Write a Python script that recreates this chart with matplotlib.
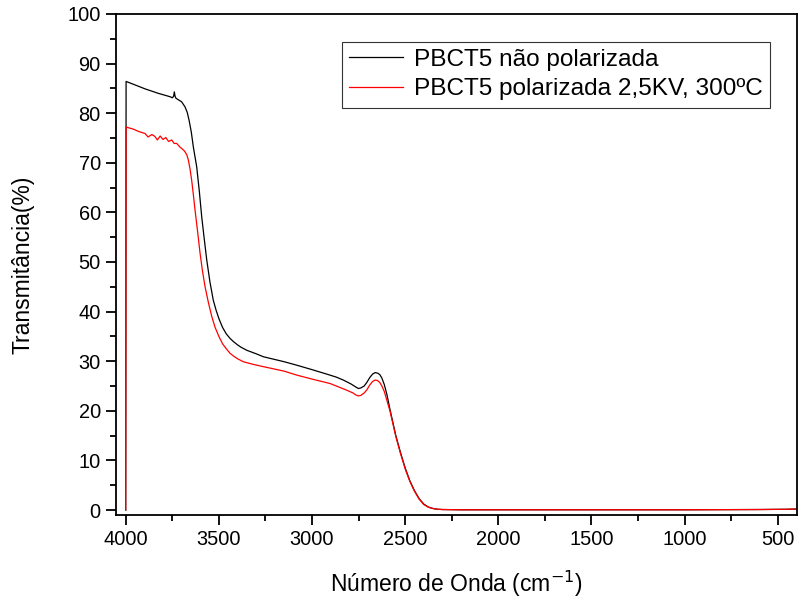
"""FTIR transmittance of PBCT5, unpoled vs poled."""

import matplotlib

matplotlib.use("Agg")
import matplotlib.pyplot as plt
from matplotlib.ticker import MultipleLocator

plt.rcParams["font.family"] = ["Liberation Sans", "DejaVu Sans"]

# Wavenumber (cm^-1) and transmittance (%).
black_wn = [4000, 3998, 3950, 3896, 3825, 3760, 3750, 3743, 3739, 3735, 3730,
            3700, 3682, 3670, 3660, 3648, 3637, 3619, 3605, 3592, 3578, 3565,
            3548, 3530, 3515, 3500, 3480, 3460, 3440, 3420, 3400, 3380, 3350,
            3300, 3261, 3150, 3082, 3000, 2921, 2870, 2832, 2790, 2765, 2751,
            2738, 2720, 2706, 2690, 2675, 2661, 2648, 2636, 2625, 2612, 2598,
            2581, 2550, 2525, 2500, 2475, 2450, 2425, 2400, 2375, 2350, 2325,
            2300, 2200, 2000, 1500, 1000, 600, 450, 400]
black_t = [0.0, 86.4, 85.7, 84.9, 84.0, 83.3, 83.1, 83.4, 84.3, 83.4, 83.0,
           82.3, 81.3, 80.2, 78.6, 76.2, 73.2, 69.2, 64.3, 59.1, 54.5, 50.4,
           46.0, 42.3, 40.3, 38.6, 36.8, 35.5, 34.6, 33.9, 33.3, 32.8, 32.2,
           31.5, 30.9, 29.9, 29.2, 28.3, 27.4, 26.8, 26.2, 25.4, 24.8, 24.5,
           24.6, 25.0, 25.7, 26.7, 27.4, 27.7, 27.6, 27.3, 26.6, 25.3, 23.3,
           20.2, 15.0, 11.6, 8.5, 5.9, 3.9, 2.3, 1.2, 0.6, 0.3, 0.15,
           0.1, 0.05, 0.05, 0.05, 0.05, 0.1, 0.15, 0.2]

red_wn = [4000, 3998, 3960, 3930, 3896, 3880, 3860, 3843, 3830, 3815, 3800,
          3785, 3770, 3753, 3740, 3726, 3710, 3700, 3685, 3672, 3664, 3655,
          3646, 3637, 3628, 3614, 3601, 3588, 3574, 3556, 3538, 3520, 3500,
          3480, 3460, 3440, 3420, 3400, 3369, 3320, 3261, 3150, 3082, 3000,
          2903, 2823, 2780, 2765, 2751, 2738, 2720, 2706, 2690, 2675, 2661,
          2648, 2636, 2625, 2612, 2598, 2581, 2550, 2525, 2500, 2475, 2450,
          2425, 2400, 2375, 2350, 2325, 2300, 2200, 2000, 1500, 1000, 600,
          450, 400]
red_t = [0.0, 77.2, 76.8, 76.3, 75.9, 75.2, 75.7, 75.3, 74.6, 75.4, 74.7,
         75.1, 74.3, 74.6, 73.9, 73.9, 73.2, 72.9, 72.4, 71.6, 70.6, 68.8,
         66.5, 63.6, 60.5, 56.1, 51.8, 48.2, 45.0, 41.8, 39.0, 36.8, 35.0,
         33.5, 32.5, 31.6, 31.0, 30.5, 29.9, 29.4, 28.9, 28.0, 27.2, 26.4,
         25.5, 24.3, 23.6, 23.2, 23.0, 23.1, 23.6, 24.2, 25.2, 25.9, 26.2,
         26.1, 25.7, 25.0, 23.9, 22.1, 19.9, 14.8, 11.4, 8.3, 5.8, 3.8,
         2.2, 1.1, 0.55, 0.3, 0.15, 0.1, 0.05, 0.05, 0.05, 0.05, 0.1,
         0.15, 0.2]

labels = ["PBCT5 não polarizada", "PBCT5 polarizada 2,5KV, 300ºC"]

fig = plt.figure(figsize=(7.98, 6.0), dpi=100)
ax = fig.add_axes([0.1454, 0.1417, 0.8530, 0.8350])

ax.plot(black_wn, black_t, color="black", lw=0.9, label=labels[0])
ax.plot(red_wn, red_t, color="#ff0000", lw=0.9, label=labels[1])

ax.set_xlim(4052, 398)
ax.set_ylim(-1.0, 100)
ax.xaxis.set_major_locator(MultipleLocator(500))
ax.xaxis.set_minor_locator(MultipleLocator(250))
ax.yaxis.set_major_locator(MultipleLocator(10))
ax.yaxis.set_minor_locator(MultipleLocator(5))

for side in ax.spines.values():
    side.set_linewidth(1.3)
ax.tick_params(which="major", direction="out", length=7, width=1.3,
               labelsize=14.4, pad=4)
ax.tick_params(which="minor", direction="out", length=4, width=1.3)

ax.set_xlabel("Número de Onda (cm$^{-1}$)", fontsize=16.5, labelpad=14)
ax.set_ylabel("Transmitância(%)", fontsize=16.5, labelpad=24)

leg = ax.legend(loc="upper left", bbox_to_anchor=(341.5 / 798, 1 - 41.5 / 600),
                bbox_transform=fig.transFigure, fontsize=17.6, frameon=True,
                fancybox=False, borderaxespad=0, borderpad=0.3,
                handlelength=2.2, handletextpad=0.45, labelspacing=0.3)
leg.get_frame().set_edgecolor("black")
leg.get_frame().set_linewidth(0.8)

fig.savefig("out.png", dpi=100)
